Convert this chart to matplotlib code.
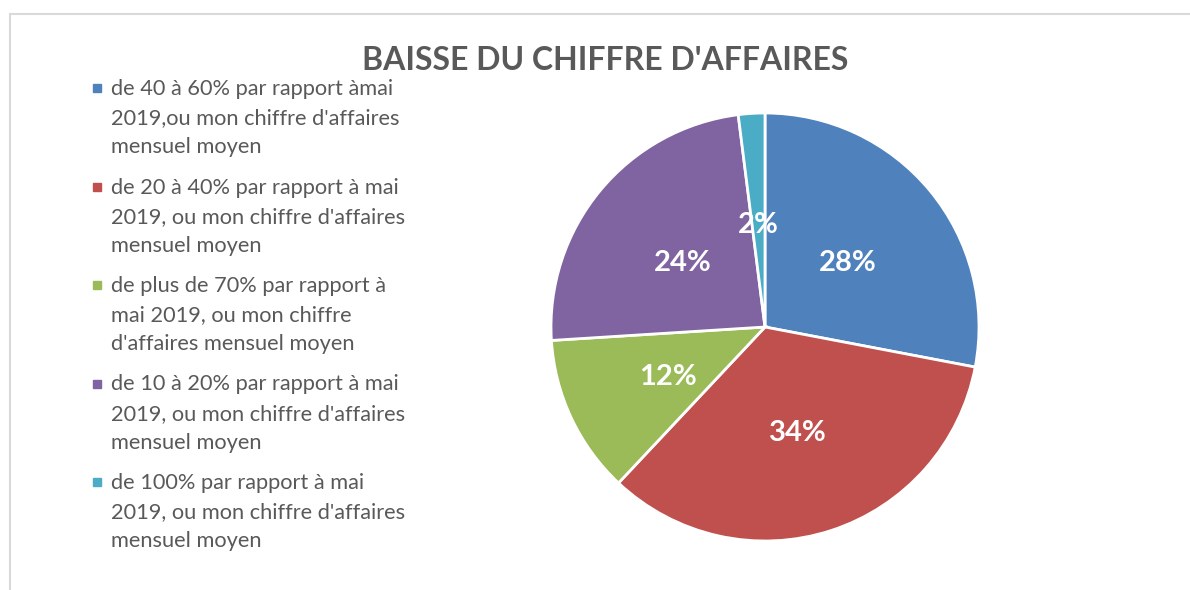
import matplotlib.pyplot as plt
from matplotlib.patches import Rectangle

# data
categories = [
    "de 40 à 60% par rapport àmai\n2019,ou mon chiffre d'affaires\nmensuel moyen",
    "de 20 à 40% par rapport à mai\n2019, ou mon chiffre d'affaires\nmensuel moyen",
    "de plus de 70% par rapport à\nmai 2019, ou mon chiffre\nd'affaires mensuel moyen",
    "de 10 à 20% par rapport à mai\n2019, ou mon chiffre d'affaires\nmensuel moyen",
    "de 100% par rapport à mai\n2019, ou mon chiffre d'affaires\nmensuel moyen",
]
values = [28, 34, 12, 24, 2]
colors = ['#4F81BD', '#C0504D', '#9BBB59', '#8064A2', '#4BACC6']
title = "BAISSE DU CHIFFRE D'AFFAIRES"

plt.rcParams['font.family'] = ['Lato', 'DejaVu Sans']

W, H = 1190, 590
fig = plt.figure(figsize=(W / 100, H / 100), dpi=100)

# cadre gris (coupe a droite et en bas)
fig.patches.append(Rectangle((9.5 / W, -0.1), 1.2, 1 - 13.5 / H + 0.1,
                             transform=fig.transFigure, fill=False,
                             edgecolor='#d9d9d9', linewidth=1.5))

# camembert
cx, cy, r = 765, 327, 214
ax = fig.add_axes([(cx - r) / W, (H - cy - r) / H, 2 * r / W, 2 * r / H])
wedges, texts, autotexts = ax.pie(values, colors=colors, startangle=90, counterclock=False,
                                  autopct='%1.0f%%', pctdistance=0.5,
                                  wedgeprops=dict(edgecolor='white', linewidth=2))
for t in autotexts:
    t.set_color('white')
    t.set_fontsize(21)
    t.set_fontweight('bold')
    t.set_va('center_baseline')
    x, y = t.get_position()
    t.set_position((x, y - 0.01))
ax.set_xlim(-1.0, 1.0)
ax.set_ylim(-1.0, 1.0)

fig.text(605 / W, 1 - 60 / H, title, ha='center', va='center',
         fontsize=23, fontweight='bold', color='#595959')

# legende manuelle
y0 = 88
for i, (lab, w) in enumerate(zip(categories, wedges)):
    y = y0 + i * 98.5
    fig.patches.append(Rectangle((93 / W, 1 - (y + 4) / H), 8 / W, 8 / H,
                                 transform=fig.transFigure, color=w.get_facecolor()))
    fig.text(111 / W, 1 - (y - 9) / H, lab, ha='left', va='top',
             fontsize=15.7, color='#595959', linespacing=1.57)

fig.savefig('out.png', dpi=100)
